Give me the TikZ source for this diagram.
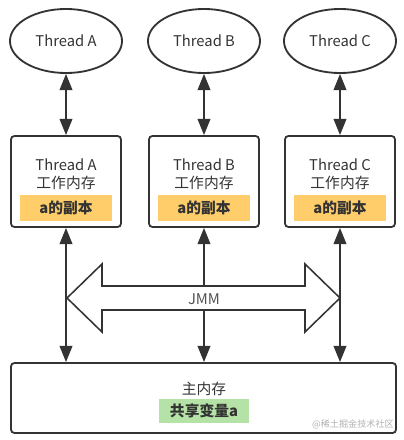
\documentclass[tikz,border=0pt]{standalone}
\usepackage{fontspec}
\setmainfont{Noto Sans CJK SC}
\usepackage{xcolor}
\usepackage{tikz}
\usetikzlibrary{shapes.geometric,arrows.meta,positioning}
\definecolor{inkgray}{HTML}{333333}
\definecolor{copyorange}{HTML}{FFCE6B}
\definecolor{sharegreen}{HTML}{B5E2A6}

\tikzset{
	thread/.style={ellipse,draw=inkgray,line width=1.3pt,minimum width=2.8cm,minimum height=1.6cm,text=inkgray,font=\fontsize{10.5}{13}\selectfont},
	workmem/.style={draw=inkgray,line width=1.3pt,rounded corners=2.5pt,minimum width=2.75cm,minimum height=2.275cm},
	memlabel/.style={align=center,text=inkgray,font=\fontsize{10.5}{13}\selectfont},
	copybar/.style={fill=copyorange,minimum width=2.3cm,minimum height=0.65cm,text=inkgray,font=\fontsize{10.5}{13}\selectfont\bfseries},
	sharebar/.style={fill=sharegreen,minimum width=2.25cm,minimum height=0.6cm,text=inkgray,font=\fontsize{10.5}{13}\selectfont\bfseries},
	link/.style={inkgray,line width=1.3pt,{Triangle[length=11.5pt,width=9pt]}-{Triangle[length=11.5pt,width=9pt]}}
}

\begin{document}
\begin{tikzpicture}[x=0.025cm,y=-0.025cm]
		\useasboundingbox (0,0) rectangle (403,440);

		\node[thread] (threadA) at (66,41) {Thread A};
		\node[thread] (threadB) at (204,41) {Thread B};
		\node[thread] (threadC) at (340,41) {Thread C};

		\node[workmem] (memA) at (66,181.5) {};
		\node[workmem] (memB) at (204,181.5) {};
		\node[workmem] (memC) at (340,181.5) {};

		\node[memlabel] (labelA) at (66,174) {Thread A\\工作内存};
		\node[memlabel] (labelB) at (204,174) {Thread B\\工作内存};
		\node[memlabel] (labelC) at (340,174) {Thread C\\工作内存};

		\node[copybar] (copyA) at (66,208) {a的副本};
		\node[copybar] (copyB) at (204,208) {a的副本};
		\node[copybar] (copyC) at (340,208) {a的副本};

		\node[draw=inkgray,line width=1.3pt,rounded corners=2.5pt,minimum width=9.625cm,minimum height=1.75cm] (mainmem) at (203.5,398) {};
		\node[memlabel] (mainlabel) at (204,389) {主内存};
		\node[sharebar] (shared) at (204,411) {共享变量a};

		\draw[link] (threadA) -- (memA);
		\draw[link] (threadB) -- (memB);
		\draw[link] (threadC) -- (memC);

		\draw[link] (memA) -- (memA |- mainmem.north);
		\draw[link] (memB) -- (memB |- mainmem.north);
		\draw[link] (memC) -- (memC |- mainmem.north);

		\draw[inkgray,line width=1.1pt,fill=white,line join=miter] (67,298) -- (102,264) -- (102,286) -- (305,286) -- (305,264) -- (340,298) -- (305,332) -- (305,310) -- (102,310) -- (102,332) -- cycle;
		\node[text=inkgray!85,font=\fontsize{10.5}{13}\selectfont] (jmm) at (204,299) {JMM};

		\node[text=black!30,font=\fontsize{6.5}{8}\selectfont] (mark) at (353,424) {@稀土掘金技术社区};
\end{tikzpicture}
\end{document}
